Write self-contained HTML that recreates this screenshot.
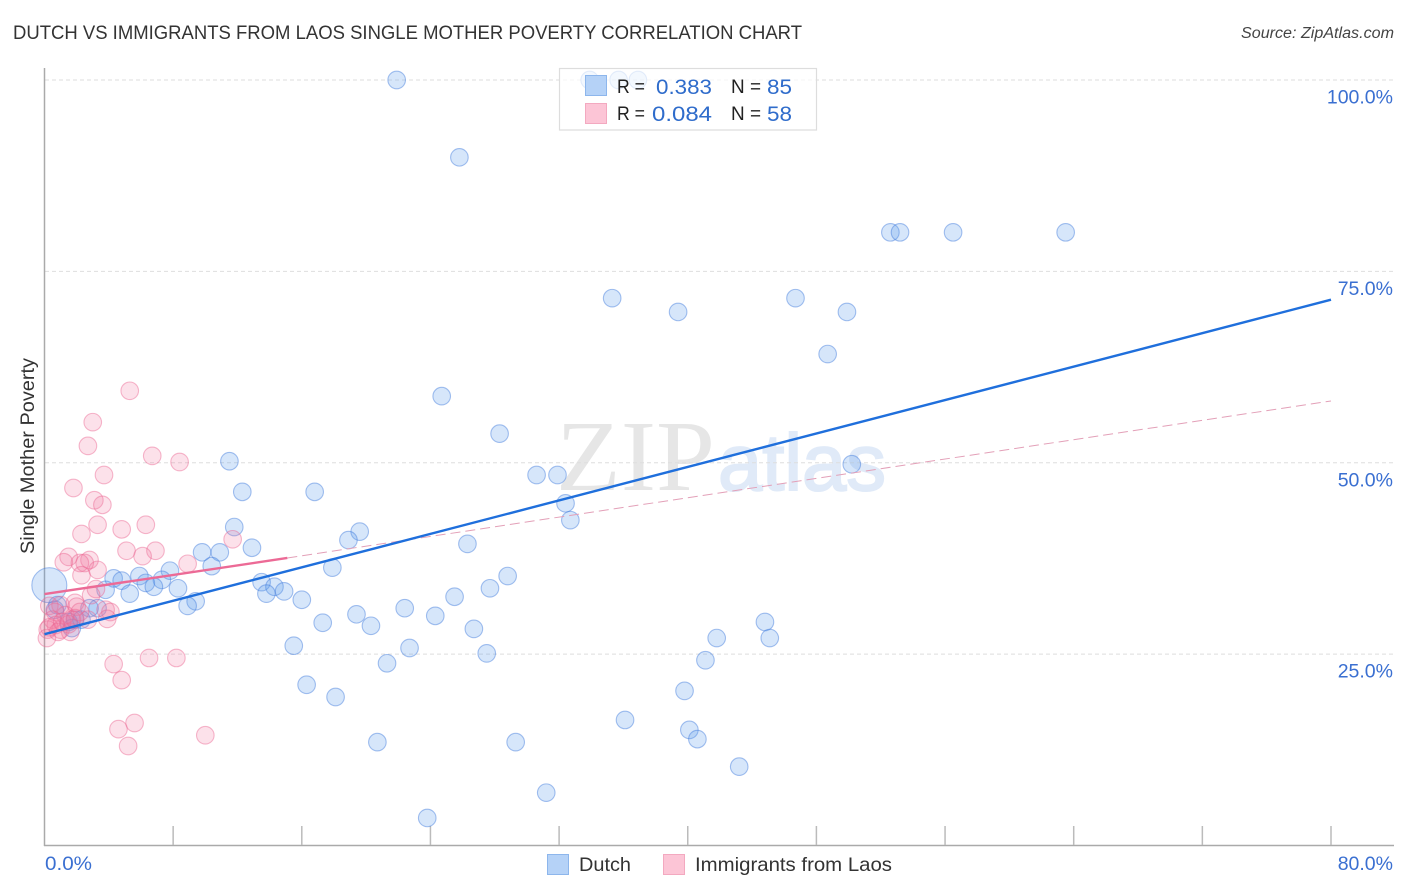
<!DOCTYPE html>
<html>
<head>
<meta charset="utf-8">
<title>Dutch vs Immigrants from Laos Single Mother Poverty Correlation Chart</title>
<style>
html,body{margin:0;padding:0;background:#fff;width:1406px;height:892px;overflow:hidden}
svg{display:block}
text{font-family:"Liberation Sans",sans-serif}
</style>
</head>
<body>
<svg id="chart" xmlns="http://www.w3.org/2000/svg" width="1406" height="892" viewBox="0 0 1406 892">
<text x="13" y="39" font-size="19.5" fill="#333" textLength="789" lengthAdjust="spacingAndGlyphs">DUTCH VS IMMIGRANTS FROM LAOS SINGLE MOTHER POVERTY CORRELATION CHART</text>
<text x="1241" y="38" font-size="15.5" font-style="italic" fill="#444" textLength="153" lengthAdjust="spacingAndGlyphs">Source: ZipAtlas.com</text>
<text x="556" y="490" font-size="101" fill="#e6e6e6" textLength="159" lengthAdjust="spacingAndGlyphs" style="font-family:'Liberation Serif',serif">ZIP</text>
<text x="718" y="490" font-size="80" fill="#e0eaf8" stroke="#e0eaf8" stroke-width="2" textLength="168" lengthAdjust="spacingAndGlyphs">atlas</text>
<g id="grid"></g>
<g id="axes"></g>
<g id="points-dutch"></g>
<g id="points-laos"></g>
<g id="trends"></g>
<text transform="translate(34,456) rotate(-90)" font-size="19" fill="#333" text-anchor="middle" textLength="196" lengthAdjust="spacingAndGlyphs">Single Mother Poverty</text>
<g>
<rect x="559.5" y="68.5" width="257" height="61.5" fill="#fff" fill-opacity="0.7" stroke="#ddd" stroke-width="1.2"/>
<rect x="585.5" y="75.5" width="21" height="20" fill="#b5d2f7" stroke="#8db6ec"/>
<rect x="585.5" y="103.5" width="21" height="20" fill="#fcc5d6" stroke="#f3a9c0"/>
<text x="617" y="93" font-size="19.5" fill="#222" textLength="28" lengthAdjust="spacingAndGlyphs">R =</text>
<text x="656" y="94" font-size="21" fill="#2f6ccb" textLength="56" lengthAdjust="spacingAndGlyphs">0.383</text>
<text x="731" y="93" font-size="19.5" fill="#222" textLength="30" lengthAdjust="spacingAndGlyphs">N =</text>
<text x="767" y="94" font-size="21" fill="#2f6ccb" textLength="25" lengthAdjust="spacingAndGlyphs">85</text>
<text x="617" y="120" font-size="19.5" fill="#222" textLength="28" lengthAdjust="spacingAndGlyphs">R =</text>
<text x="652" y="121" font-size="21" fill="#2f6ccb" textLength="60" lengthAdjust="spacingAndGlyphs">0.084</text>
<text x="731" y="120" font-size="19.5" fill="#222" textLength="30" lengthAdjust="spacingAndGlyphs">N =</text>
<text x="767" y="121" font-size="21" fill="#2f6ccb" textLength="25" lengthAdjust="spacingAndGlyphs">58</text>
</g>
<g>
<rect x="547.5" y="854.5" width="21" height="20" fill="#b5d2f7" stroke="#8db6ec"/>
<text x="579" y="871" font-size="19.5" fill="#333" textLength="52" lengthAdjust="spacingAndGlyphs">Dutch</text>
<rect x="663.5" y="854.5" width="21" height="20" fill="#fcc5d6" stroke="#f3a9c0"/>
<text x="695" y="871" font-size="19.5" fill="#333" textLength="197" lengthAdjust="spacingAndGlyphs">Immigrants from Laos</text>
</g>
</svg>
<script>
const xTicks = [8, 16, 24, 32, 40, 48, 56, 64, 72, 80];
const yTicks = [25, 50, 75, 100];
const yTickLabels = ["25.0%", "50.0%", "75.0%", "100.0%"];
const xEndLabels = ["0.0%", "80.0%"];
const dutchX = [21.9,33.9,35.7,36.9,25.8,52.6,53.2,56.5,63.5,35.3,46.7,39.4,49.9,48.7,24.7,28.3,11.5,50.2,30.6,31.9,12.3,16.8,32.4,32.7,11.8,19.6,18.9,26.3,12.9,9.8,10.9,10.4,17.9,7.8,28.8,5.9,4.3,4.8,7.3,6.3,6.8,13.5,14.3,8.3,27.7,14.9,13.8,5.3,3.8,16.0,9.4,25.5,8.9,22.4,19.4,24.3,3.3,2.8,20.3,17.3,26.7,44.8,45.1,41.8,15.5,22.7,27.5,41.1,21.3,16.3,39.8,18.1,36.1,40.1,40.6,20.7,29.3,43.2,31.2,23.8,1.9,1.5,1.7,0.8,0.65,2.3];
const dutchY = [100,100,100,100,89.9,80.1,80.1,80.1,80.1,71.5,71.5,69.7,69.7,64.2,58.7,53.8,50.2,49.8,48.4,48.4,46.2,46.2,44.7,42.5,41.6,41.0,39.9,39.4,38.9,38.3,38.3,36.5,36.3,35.9,35.2,35.2,34.9,34.6,34.7,34.3,33.8,34.4,33.8,33.6,33.6,33.2,32.9,32.9,33.4,32.1,31.9,32.5,31.3,31.0,30.2,30.0,31.0,31.0,28.7,29.1,28.3,29.2,27.1,27.1,26.1,25.8,25.1,24.2,23.8,21.0,20.2,19.4,16.4,15.1,13.9,13.5,13.5,10.3,6.9,3.6,29.5,29.2,28.4,31.4,30.8,29.5];
const dutchLargeX = [0.3];
const dutchLargeY = [34.0];
const laosX = [5.3,3.0,2.7,6.7,8.4,3.7,1.8,3.1,3.6,3.3,6.3,4.8,2.3,11.7,5.1,6.9,6.1,1.5,2.8,1.2,2.2,2.5,8.9,3.3,2.3,3.2,2.9,1.9,1.0,2.0,0.3,0.65,3.8,4.1,3.9,2.7,1.9,1.3,0.5,0.7,1.0,1.6,0.2,0.3,0.15,4.3,6.5,8.2,4.8,5.6,4.6,5.2,10.0,1.1,1.5,1.7,2.2,0.85];
const laosY = [59.4,55.3,52.2,50.9,50.1,48.4,46.7,45.1,44.5,41.9,41.9,41.3,40.7,40.0,38.5,38.5,37.8,37.7,37.3,37.0,36.9,36.9,36.8,36.0,35.3,33.5,32.7,31.7,31.4,31.2,31.3,30.5,30.8,30.5,29.6,29.5,29.7,30.1,29.5,28.8,28.2,27.9,28.2,28.5,27.1,23.7,24.5,24.5,21.6,16.0,15.2,13.0,14.4,29.2,28.9,29.5,30.5,27.9];
const dutchTrendX = [0, 80];
const dutchTrendY = [27.6, 71.3];
const laosTrendX = [0, 15.1];
const laosTrendY = [32.85, 37.56];
const laosDashX = [15.1, 80];
const laosDashY = [37.56, 58.07];

const NS = "http://www.w3.org/2000/svg";
function xScale(v) { return 44.5 + v * (1331 - 44.5) / 80; }
function yScale(v) { return 845.5 - v * 7.655; }
function make(tag, parent, props) {
  const el = document.createElementNS(NS, tag);
  for (const k in props) el.setAttribute(k, props[k]);
  parent.appendChild(el);
  return el;
}
const grid = document.getElementById("grid");
const axes = document.getElementById("axes");
yTicks.forEach(function (t, i) {
  const line = make("line", grid, {x1: 45, x2: 1394, y1: yScale(t), y2: yScale(t), stroke: "#dedede", "stroke-width": 1, "stroke-dasharray": "4 3"});
  
  
  const label = make("text", axes, {x: 1393, y: yScale(t) + 23.5, "font-size": 19.5, fill: "#3a6fd1", "text-anchor": "end"});
  label.textContent = yTickLabels[i];
  
  
});
const yAxis = make("line", axes, {x1: 44.5, x2: 44.5, y1: 68, y2: 846, stroke: "#aaa", "stroke-width": 1.5});


const xAxis = make("line", axes, {x1: 44, x2: 1394, y1: 845.5, y2: 845.5, stroke: "#aaa", "stroke-width": 1.5});


xTicks.forEach(function (t) {
  const tick = make("line", axes, {x1: xScale(t), x2: xScale(t), y1: 826, y2: 845, stroke: "#bbb", "stroke-width": 1.5});
  
  
});
const xLabelLeft = make("text", axes, {x: 45, y: 870, "font-size": 19.5, fill: "#3a6fd1", textLength: 47, lengthAdjust: "spacingAndGlyphs"});
xLabelLeft.textContent = xEndLabels[0];


const xLabelRight = make("text", axes, {x: 1393, y: 870, "font-size": 19.5, fill: "#3a6fd1", "text-anchor": "end"});
xLabelRight.textContent = xEndLabels[1];



const dutchGroup = document.getElementById("points-dutch");
const laosGroup = document.getElementById("points-laos");
dutchLargeX.forEach(function (v, i) {
  const c = make("circle", dutchGroup, {cx: xScale(v), cy: yScale(dutchLargeY[i]), r: 17.5, fill: "rgba(90,155,235,.25)", stroke: "rgba(60,120,220,.45)", "stroke-width": 1.1});
  
  
});
dutchX.forEach(function (v, i) {
  const c = make("circle", dutchGroup, {cx: xScale(v), cy: yScale(dutchY[i]), r: 8.8, fill: "rgba(90,155,235,.25)", stroke: "rgba(60,120,220,.45)", "stroke-width": 1.1});
  
  
});
laosX.forEach(function (v, i) {
  const c = make("circle", laosGroup, {cx: xScale(v), cy: yScale(laosY[i]), r: 8.8, fill: "rgba(240,120,160,.22)", stroke: "rgba(235,100,145,.45)", "stroke-width": 1.1});
  
  
});
const trends = document.getElementById("trends");
const laosDash = make("line", trends, {x1: xScale(laosDashX[0]), y1: yScale(laosDashY[0]), x2: xScale(laosDashX[1]), y2: yScale(laosDashY[1]), stroke: "#e3a0b8", "stroke-width": 1, "stroke-dasharray": "10 5"});


const dutchTrend = make("line", trends, {x1: xScale(dutchTrendX[0]), y1: yScale(dutchTrendY[0]), x2: xScale(dutchTrendX[1]), y2: yScale(dutchTrendY[1]), stroke: "#1f6fdc", "stroke-width": 2.4});


const laosTrend = make("line", trends, {x1: xScale(laosTrendX[0]), y1: yScale(laosTrendY[0]), x2: xScale(laosTrendX[1]), y2: yScale(laosTrendY[1]), stroke: "#ec6a96", "stroke-width": 2.4});


</script>
</body>
</html>
